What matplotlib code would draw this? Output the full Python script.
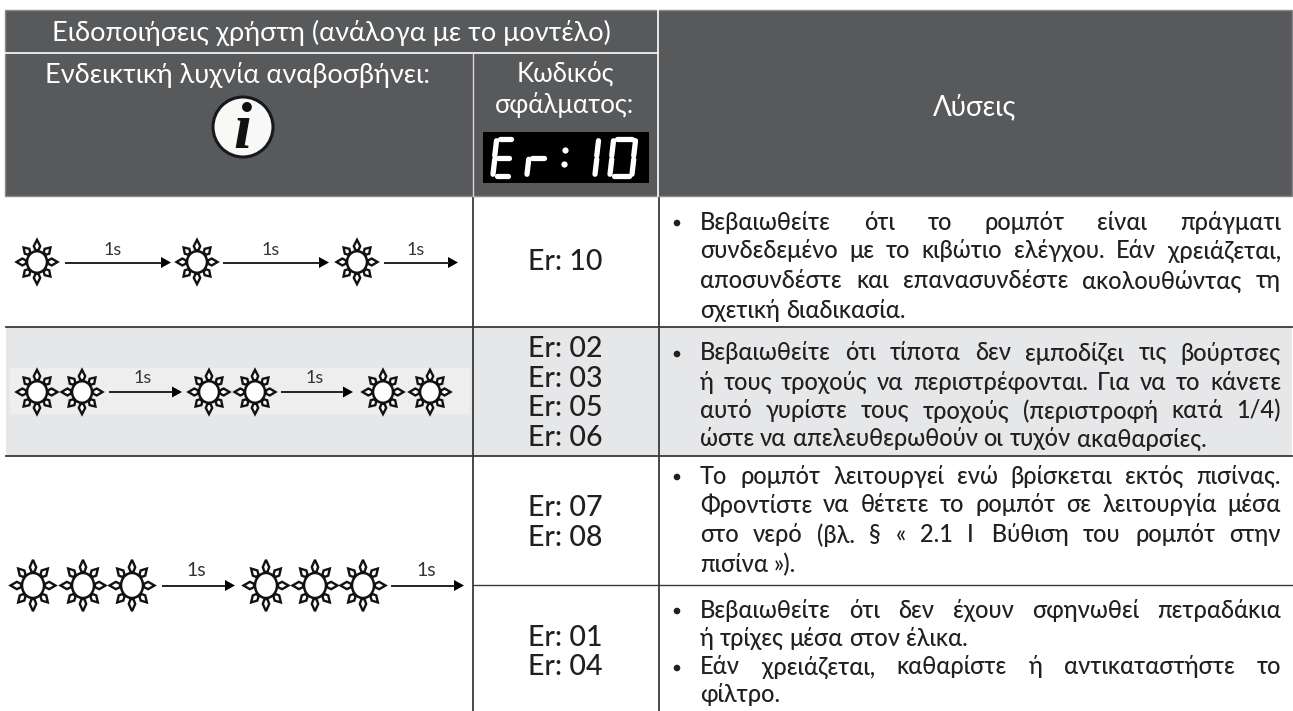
#! /usr/bin/env python3

import numpy as np
import matplotlib
matplotlib.use('Agg')
import matplotlib.pyplot as plt
from matplotlib.patches import Circle, Ellipse, Polygon, Rectangle

plt.rcParams['font.family'] = ['Lato', 'Open Sans', 'DejaVu Sans']

title_top = "Ειδοποιήσεις χρήστη (ανάλογα με το μοντέλο)"
title_led = "Ενδεικτική λυχνία αναβοσβήνει:"
title_code = ["Κωδικός", "σφάλματος:"]
title_fix = "Λύσεις"

blink_label = "1s"

codes_row1 = ["Er: 10"]
codes_row2 = ["Er: 02", "Er: 03", "Er: 05", "Er: 06"]
codes_row3 = ["Er: 07", "Er: 08"]
codes_row4 = ["Er: 01", "Er: 04"]

fix_row1 = [["Βεβαιωθείτε ότι το ρομπότ είναι πράγματι",
             "συνδεδεμένο με το κιβώτιο ελέγχου. Εάν χρειάζεται,",
             "αποσυνδέστε και επανασυνδέστε ακολουθώντας τη",
             "σχετική διαδικασία."]]
fix_row2 = [["Βεβαιωθείτε ότι τίποτα δεν εμποδίζει τις βούρτσες",
             "ή τους τροχούς να περιστρέφονται. Για να το κάνετε",
             "αυτό γυρίστε τους τροχούς (περιστροφή κατά 1/4)",
             "ώστε να απελευθερωθούν οι τυχόν ακαθαρσίες."]]
fix_row3 = [["Το ρομπότ λειτουργεί ενώ βρίσκεται εκτός πισίνας.",
             "Φροντίστε να θέτετε το ρομπότ σε λειτουργία μέσα",
             "στο νερό (βλ. § « 2.1 I\u00a0\u00a0\u00a0Βύθιση του ρομπότ στην",
             "πισίνα »)."]]
fix_row4 = [["Βεβαιωθείτε ότι δεν έχουν σφηνωθεί πετραδάκια",
             "ή τρίχες μέσα στον έλικα."],
            ["Εάν χρειάζεται, καθαρίστε ή αντικαταστήστε το",
             "φίλτρο."]]

HEAD = '#58595b'
GREY = '#e6e7e8'
LINE = '#3a3a3c'
INK = '#231f20'

fig = plt.figure(figsize=(12.93, 7.11), dpi=100)
ax = fig.add_axes([0, 0, 1, 1])
ax.set_xlim(0, 1293)
ax.set_ylim(711, 0)
ax.axis('off')
renderer = fig.canvas.get_renderer()


def sun(cx, cy, r, outer, ys):
    ax.add_patch(Ellipse((cx, cy), 2 * r, 2 * r * ys, fc='white', ec='#111111', lw=1.8, zorder=3))
    c = np.array([cx, cy])
    stretch = np.array([1, ys])
    for k in range(8):
        a = k * np.pi / 4
        d = np.array([np.cos(a), np.sin(a)])
        n = np.array([-d[1], d[0]])
        length = outer if k % 2 == 0 else outer - 1.5
        base = d * (r + 1)
        mid = d * (r + (length - r) * 0.45)
        tip = d * length
        pts = [base + n * 1.5, mid + n * 3.2, tip, mid - n * 3.2, base - n * 1.5]
        pts = [c + p * stretch for p in pts]
        ax.add_patch(Polygon(pts, closed=True, fc='white', ec='#111111', lw=1.7,
                             joinstyle='miter', zorder=2))


def arrow(x0, x1, y, label, label_x, label_y, size):
    ax.plot([x0, x1 - 9], [y, y], color='#222222', lw=1.4, solid_capstyle='butt')
    ax.add_patch(Polygon([(x1 - 10, y - 5.5), (x1, y), (x1 - 10, y + 5.5)], fc='black', ec='none'))
    ax.text(label_x, label_y, label, ha='center', va='center', fontsize=size, color='#333333')


def word_width(word, size, weight):
    t = ax.text(0, 0, word, fontsize=size, weight=weight)
    w = t.get_window_extent(renderer).width
    t.remove()
    return w


def justified(line, y, x0, x1, size, stretch):
    weight = 'medium'
    words = line.split(' ')
    widths = [word_width(w, size, weight) for w in words]
    space = word_width('a a', size, weight) - word_width('aa', size, weight)
    if stretch and len(words) > 1:
        space = (x1 - x0 - sum(widths)) / (len(words) - 1)
    x = x0
    for w, width in zip(words, widths):
        ax.text(x, y, w, fontsize=size, weight=weight, color=INK, ha='left', va='center')
        x += width + space


def solution(paragraphs, ys):
    i = 0
    for para in paragraphs:
        ax.add_patch(Circle((677, ys[i] + 1), 3.3, fc=INK, ec='none'))
        for j, line in enumerate(para):
            justified(line, ys[i], 700, 1281, 17, j < len(para) - 1)
            i += 1


def codes(items, ys):
    for c, y in zip(items, ys):
        ax.text(565.5, y, c, fontsize=20.5, weight='medium', color=INK, ha='center', va='center')


def seven_seg(x, y, w, h, on):
    # segments a b c d e f g, slanted like the display on the robot
    segs = {'a': ((0, 0), (1, 0)), 'b': ((1, 0), (1, .5)), 'c': ((1, .5), (1, 1)), 'd': ((0, 1), (1, 1)),
            'e': ((0, .5), (0, 1)), 'f': ((0, 0), (0, .5)), 'g': ((0, .5), (1, .5))}
    slant = 3.5
    for s in on:
        (a, b), (c, d) = segs[s]
        gap_x = (c - a) * 3.5
        gap_y = (d - b) * 3.5
        ax.plot([x + a * w + gap_x + (1 - b) * slant, x + c * w - gap_x + (1 - d) * slant],
                [y + b * h + gap_y, y + d * h - gap_y],
                color='white', lw=3.8, solid_capstyle='round')


# backgrounds
ax.add_patch(Rectangle((5, 10), 1287, 186, fc=HEAD, ec='#8a8a8c', lw=1))
ax.add_patch(Rectangle((6, 327), 1286, 129, fc=GREY, ec='none'))
ax.add_patch(Rectangle((10, 368), 460, 46, fc='#eeeeee', ec='none'))

# header dividers
ax.plot([5, 658], [53, 53], color='white', lw=1.2)
ax.plot([472.5, 472.5], [53, 196], color='#d8d8d8', lw=1)
ax.plot([658, 658], [10, 196], color='white', lw=1.2)

# body grid
for y in (326.5, 455.5):
    ax.plot([6, 1292], [y, y], color=LINE, lw=1.3)
ax.plot([472.5, 1292], [585, 585], color=LINE, lw=1)
ax.plot([472.5, 472.5], [198, 711], color=LINE, lw=1.3)
ax.plot([658.5, 658.5], [198, 711], color=LINE, lw=1.3)

# header text
ax.text(331, 33, title_top, fontsize=19.5, color='white', ha='center', va='center')
ax.text(238, 75, title_led, fontsize=19.5, color='white', ha='center', va='center')
ax.text(565, 74, title_code[0], fontsize=18.5, color='white', ha='center', va='center')
ax.text(565, 105, title_code[1], fontsize=18.5, color='white', ha='center', va='center')
ax.text(975, 107, title_fix, fontsize=20, color='white', ha='center', va='center')

# info icon
ax.add_patch(Ellipse((243, 127), 60, 60, fc='#f8f8f6', ec='#15181c', lw=2.2))
ax.text(242, 131.5, 'i', fontsize=47, family='Liberation Serif', weight='bold', style='italic',
        color='#111111', ha='center', va='center')

# display
ax.add_patch(Rectangle((483, 132), 166, 51, fc='black', ec='none'))
seven_seg(493, 139, 18, 37, 'adefg')
seven_seg(527, 139, 19, 37, 'eg')
ax.plot([565], [150], 'o', color='white', ms=4.5, mew=0)
ax.plot([564], [164], 'o', color='white', ms=4.5, mew=0)
seven_seg(595, 139, 0.01, 37, 'ef')
seven_seg(610, 139, 22, 37, 'abcdef')

# blink patterns
for x in [37, 197, 357]:
    sun(x, 262, 10, 20.5, 1.08)
for x in [37, 82, 209, 255, 383, 430]:
    sun(x, 392, 10, 20.5, 1.08)
for x in [33, 83, 132, 266, 315, 363]:
    sun(x, 585.5, 11, 22.5, 1.14)

arrow(65, 171, 262.5, blink_label, 113, 250, 13)
arrow(223, 329, 262.5, blink_label, 271, 250, 13)
arrow(384, 458, 262.5, blink_label, 416, 250, 13)
arrow(109, 182, 392, blink_label, 143, 378, 13)
arrow(281, 353, 392, blink_label, 315, 378, 13)
arrow(162, 235, 585.5, blink_label, 196, 571, 14)
arrow(391, 464, 585.5, blink_label, 426, 571, 14)

# error codes
codes(codes_row1, [262])
codes(codes_row2, [349, 379, 408, 438])
codes(codes_row3, [508, 538])
codes(codes_row4, [638, 667])

# solutions
solution(fix_row1, [222, 251, 281, 310])
solution(fix_row2, [353, 382, 411, 439])
solution(fix_row3, [476, 505, 535, 565])
solution(fix_row4, [610, 638, 667, 695])

fig.savefig('out.png', dpi=100, facecolor='white')
